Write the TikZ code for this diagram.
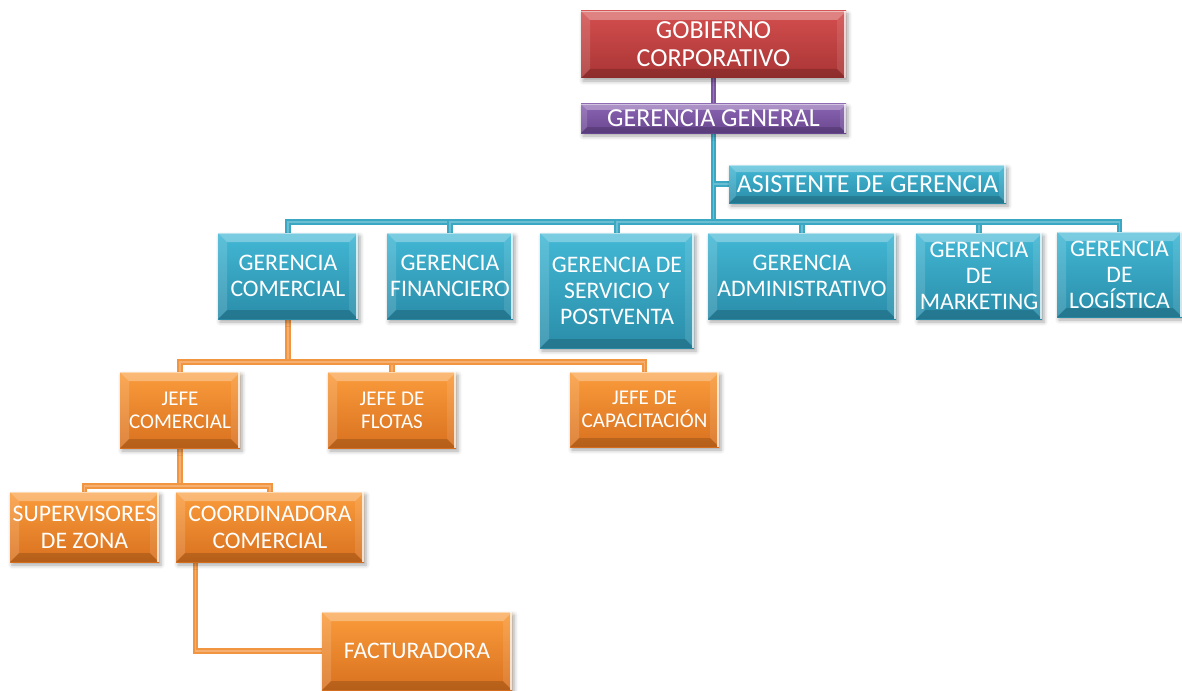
\documentclass[tikz,border=0pt]{standalone}
\usepackage{fontspec}
\setmainfont{Carlito}
\usetikzlibrary{shadows.blur}
\pgfdeclarelayer{background}
\pgfsetlayers{background,main}

\definecolor{redTop}{HTML}{D44E4E}
\definecolor{redBot}{HTML}{A93535}
\definecolor{purTop}{HTML}{8A64B0}
\definecolor{purBot}{HTML}{6A4792}
\definecolor{tealTop}{HTML}{42B8D5}
\definecolor{tealBot}{HTML}{2A8DA9}
\definecolor{oraTop}{HTML}{FA9C3C}
\definecolor{oraBot}{HTML}{D9711F}
\definecolor{tealLine}{HTML}{3AA7C3}
\definecolor{oraLine}{HTML}{F29540}
\definecolor{purLine}{HTML}{7B56A0}

% bevelled face: light top and left bands, dark bottom band, bright rim
\newcommand\bevelpp[1]{%
  \fill[white,opacity=.30] (path picture bounding box.north west) -- (path picture bounding box.north east)
     -- ([xshift=-#1,yshift=-#1]path picture bounding box.north east) -- ([xshift=#1,yshift=-#1]path picture bounding box.north west) -- cycle;
  \fill[white,opacity=.14] (path picture bounding box.north west) -- ([xshift=#1,yshift=-#1]path picture bounding box.north west)
     -- ([xshift=#1,yshift=#1]path picture bounding box.south west) -- (path picture bounding box.south west) -- cycle;
  \fill[white,opacity=.10] (path picture bounding box.north east) -- ([xshift=-#1,yshift=-#1]path picture bounding box.north east)
     -- ([xshift=-#1,yshift=#1]path picture bounding box.south east) -- (path picture bounding box.south east) -- cycle;
  \fill[black,opacity=.16] (path picture bounding box.south west) -- (path picture bounding box.south east)
     -- ([xshift=-#1,yshift=#1]path picture bounding box.south east) -- ([xshift=#1,yshift=#1]path picture bounding box.south west) -- cycle;
  \draw[white,opacity=.75,line width=1.6pt] ([xshift=-1pt]path picture bounding box.north east) -- ([xshift=-1pt]path picture bounding box.south east);
  \draw[white,opacity=.45,line width=1.2pt] ([yshift=-.8pt]path picture bounding box.north west) -- ([yshift=-.8pt]path picture bounding box.north east);
}

\begin{document}
\begin{tikzpicture}[x=1pt,y=-1pt,
  orgbox/.style n args={3}{draw=none, top color=#1, bottom color=#2, inner sep=0pt,
    align=center, text=white, path picture={\bevelpp{#3}},
    blur shadow={shadow xshift=2pt, shadow yshift=-3pt, shadow blur radius=4pt, shadow opacity=35}},
  redbox/.style={orgbox={redTop}{redBot}{9pt}, font=\fontsize{26}{28}\selectfont},
  purbox/.style={orgbox={purTop}{purBot}{6pt}, font=\fontsize{26}{28}\selectfont},
  tealbox/.style={orgbox={tealTop}{tealBot}{9pt}, font=\fontsize{23.7}{26}\selectfont},
  tealwide/.style={orgbox={tealTop}{tealBot}{7pt}, font=\fontsize{26}{28}\selectfont},
  orabox/.style={orgbox={oraTop}{oraBot}{9pt}, font=\fontsize{21}{23}\selectfont},
  orabig/.style={orgbox={oraTop}{oraBot}{9pt}, font=\fontsize{23.7}{27}\selectfont},
  conn/.style={line width=2pt, double distance=1.3pt, line join=miter},
  tline/.style={conn, draw=tealLine, double=tealLine!75!white},
  oline/.style={conn, draw=oraLine, double=oraLine!75!white},
  pline/.style={conn, draw=purLine, double=purLine!80!white},
]
\useasboundingbox (0,0) rectangle (1182,690);

% top of the hierarchy
\node[redbox, minimum width=265pt, minimum height=67pt] (gob) at (713.5,44.5) {GOBIERNO\\CORPORATIVO};
\node[purbox, minimum width=265pt, minimum height=29pt] (gg) at (713.5,118.5) {GERENCIA GENERAL};
\node[tealwide, minimum width=277pt, minimum height=38pt] (asis) at (867.5,184) {ASISTENTE DE GERENCIA};

% managements
\node[tealbox, minimum width=140pt, minimum height=86pt] (gcom) at (288,276) {GERENCIA\\COMERCIAL};
\node[tealbox, minimum width=126pt, minimum height=86pt] (gfin) at (450,276) {GERENCIA\\FINANCIERO};
\node[tealbox, minimum width=154pt, minimum height=115pt] (gserv) at (617,290.5) {GERENCIA DE\\SERVICIO Y\\POSTVENTA};
\node[tealbox, minimum width=188pt, minimum height=86pt] (gadm) at (802,276) {GERENCIA\\ADMINISTRATIVO};
\node[tealbox, minimum width=126pt, minimum height=86pt] (gmkt) at (979,276) {GERENCIA\\DE\\MARKETING};
\node[tealbox, minimum width=125pt, minimum height=85pt] (glog) at (1119.5,274.5) {GERENCIA\\DE\\LOGÍSTICA};

% commercial area
\node[orabox, minimum width=120pt, minimum height=76pt] (jcom) at (180,410) {JEFE\\COMERCIAL};
\node[orabox, minimum width=128pt, minimum height=76pt] (jflo) at (392,410) {JEFE DE\\FLOTAS};
\node[orabox, minimum width=149pt, minimum height=75pt] (jcap) at (644.5,409.5) {JEFE DE\\CAPACITACIÓN};
\node[orabig, minimum width=149pt, minimum height=70pt] (sup) at (84.5,527) {SUPERVISORES\\DE ZONA};
\node[orabig, minimum width=188pt, minimum height=70pt] (coor) at (270,527) {COORDINADORA\\COMERCIAL};
\node[orabig, minimum width=190pt, minimum height=78pt] (fact) at (417,651) {FACTURADORA};

% junction points of the elbow connectors
\coordinate (tbus) at (713.5,222);
\coordinate (obus) at (288,362);
\coordinate (ibus) at (180,486);

\begin{pgfonlayer}{background}
  \draw[pline] (gob.south) -- (gg.north);
  \draw[tline] (gg.south) -- (tbus);
  \draw[tline] (gg.south |- asis.west) -- (asis.west);
  \foreach \n in {gcom,gfin,gserv,gadm,gmkt,glog}
    \draw[tline] (tbus) -| (\n.north);
  \draw[oline] (gcom.south) -- (obus);
  \foreach \n in {jcom,jflo,jcap}
    \draw[oline] (obus) -| (\n.north);
  \draw[oline] (jcom.south) -- (ibus);
  \foreach \n in {sup,coor}
    \draw[oline] (ibus) -| (\n.north);
  \draw[oline] ([xshift=20pt]coor.south west) |- (fact.west);
\end{pgfonlayer}
\end{tikzpicture}
\end{document}
